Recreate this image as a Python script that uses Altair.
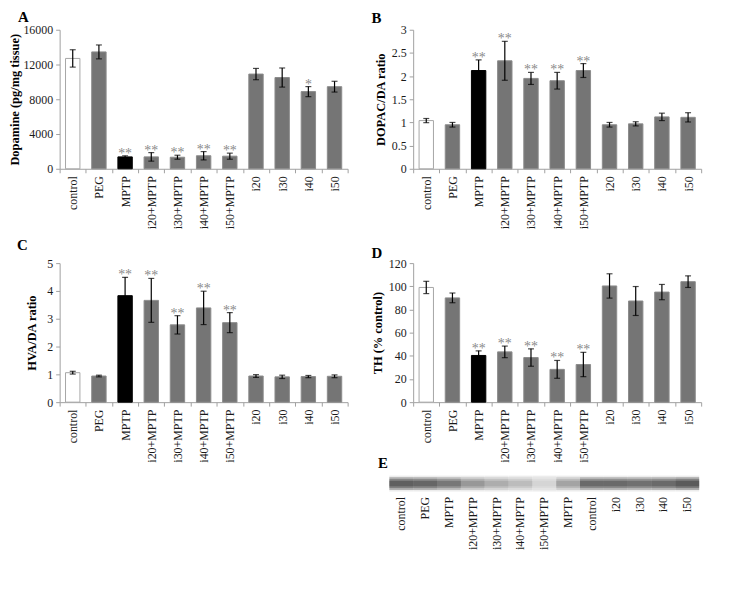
import altair as alt
import pandas as pd

FONT = "Liberation Serif"

# ---- categories (panels A-D) ----
cats = ["control", "PEG", "MPTP", "i20+MPTP", "i30+MPTP", "i40+MPTP",
        "i50+MPTP", "i20", "i30", "i40", "i50"]
fill_colors = ["#ffffff", "#757575", "#000000", "#757575", "#757575", "#757575",
               "#757575", "#757575", "#757575", "#757575", "#757575"]
stroke_colors = ["#a6a6a6", "#8c8c8c", "#000000", "#8c8c8c", "#8c8c8c", "#8c8c8c",
                 "#8c8c8c", "#8c8c8c", "#8c8c8c", "#8c8c8c", "#8c8c8c"]

# ---- A: Dopamine ----
dopamine = [12700, 13450, 1370, 1370, 1330, 1500, 1450, 10900, 10500, 8880, 9450]
dopamine_err = [1000, 800, 130, 490, 230, 480, 350, 650, 1100, 580, 620]
dopamine_sig = ["", "", "**", "**", "**", "**", "**", "", "", "*", ""]
dopamine_ticks = [0, 4000, 8000, 12000, 16000]

# ---- B: DOPAC/DA ----
dopac = [1.04, 0.95, 2.12, 2.33, 1.95, 1.90, 2.12, 0.95, 0.97, 1.12, 1.11]
dopac_err = [0.045, 0.05, 0.23, 0.42, 0.13, 0.18, 0.15, 0.05, 0.045, 0.08, 0.10]
dopac_sig = ["", "", "**", "**", "**", "**", "**", "", "", "", ""]
dopac_ticks = [0, 0.5, 1, 1.5, 2, 2.5, 3]

# ---- C: HVA/DA ----
hva = [1.06, 0.94, 3.83, 3.66, 2.78, 3.39, 2.86, 0.94, 0.91, 0.92, 0.93]
hva_err = [0.05, 0.03, 0.66, 0.79, 0.33, 0.60, 0.36, 0.05, 0.06, 0.04, 0.05]
hva_sig = ["", "", "**", "**", "**", "**", "**", "", "", "", ""]
hva_ticks = [0, 1, 2, 3, 4, 5]

# ---- D: TH ----
th = [99, 90, 40.3, 43.4, 38.5, 28.3, 32.5, 100.3, 87.3, 95, 104]
th_err = [5.3, 4.2, 4, 5, 7.5, 7.7, 10.5, 10.5, 12.5, 6.6, 5]
th_sig = ["", "", "**", "**", "**", "**", "**", "", "", "", ""]
th_ticks = [0, 20, 40, 60, 80, 100, 120]

# ---- E: western blot lanes ----
lanes = ["control", "PEG", "MPTP", "i20+MPTP", "i30+MPTP", "i40+MPTP", "i50+MPTP",
         "MPTP", "control", "i20", "i30", "i40", "i50"]
band_intensity = [0.95, 0.9, 0.75, 0.5, 0.35, 0.25, 0.12, 0.4, 0.85, 0.85, 0.8, 0.85, 1.0]

PW, PH = 290, 140
E_GAP, E_H = 74, 16


def letter_title(letter, t_off, t_dx):
    return alt.TitleParams(letter, anchor="start", frame="group", offset=t_off,
                           dx=t_dx, baseline="alphabetic", font=FONT,
                           fontSize=15, fontWeight="bold", color="#000")


def panel_layer(values, errs, sigs, ymax, yticks, ytitle, fmt="~g", title_pad=4):
    df = pd.DataFrame({
        "cat": cats,
        "val": values,
        "lo": [v - e for v, e in zip(values, errs)],
        "hi": [v + e for v, e in zip(values, errs)],
        "sig": sigs,
    })
    x = alt.X("cat:N", sort=cats,
              scale=alt.Scale(paddingInner=0, paddingOuter=0),
              axis=alt.Axis(title=None, labelAngle=270, tickBand="extent",
                            labelPadding=3, tickSize=4, orient="bottom"))
    ysc = alt.Scale(domain=[0, ymax], nice=False, zero=True)
    yax = alt.Axis(values=yticks, format=fmt, titlePadding=title_pad,
                   labelPadding=3, tickSize=4)
    base = alt.Chart(df)
    bars = base.mark_bar(width=alt.RelativeBandSize(0.55), strokeWidth=1).encode(
        x=x,
        y=alt.Y("val:Q", scale=ysc, axis=yax, title=ytitle),
        fill=alt.Fill("cat:N", scale=alt.Scale(domain=cats, range=fill_colors), legend=None),
        stroke=alt.Stroke("cat:N", scale=alt.Scale(domain=cats, range=stroke_colors), legend=None),
    )
    rules = base.mark_rule(color="black", strokeWidth=1.2).encode(
        x=x, y=alt.Y("lo:Q", scale=ysc, axis=yax, title=ytitle), y2="hi:Q")
    lo_caps = base.mark_tick(color="black", size=6, thickness=1.2).encode(
        x=x, y=alt.Y("lo:Q", scale=ysc, axis=yax, title=ytitle))
    hi_caps = base.mark_tick(color="black", size=6, thickness=1.2).encode(
        x=x, y=alt.Y("hi:Q", scale=ysc, axis=yax, title=ytitle))
    stars = base.mark_text(font=FONT, fontSize=14, color="#8a8a8a",
                           baseline="alphabetic", dy=2).encode(
        x=x, y=alt.Y("hi:Q", scale=ysc, axis=yax, title=ytitle), text="sig:N")
    return alt.layer(bars, rules, lo_caps, hi_caps, stars)


pA = panel_layer(dopamine, dopamine_err, dopamine_sig, 16000, dopamine_ticks,
                 "Dopamine (pg/mg tissue)", fmt="d", title_pad=1).properties(
    width=PW, height=PH, title=letter_title("A", -13, -42))
pB = panel_layer(dopac, dopac_err, dopac_sig, 3, dopac_ticks,
                 "DOPAC/DA ratio").properties(
    width=PW, height=PH, title=letter_title("B", -14, -42))
pC = panel_layer(hva, hva_err, hva_sig, 5, hva_ticks,
                 "HVA/DA ratio", title_pad=8).properties(
    width=PW, height=PH, title=letter_title("C", -8, -43))
dLayer = panel_layer(th, th_err, th_sig, 120, th_ticks, "TH (% control)", fmt="d")

# ---- E blot, drawn below panel D on its own scales ----
edf = pd.DataFrame({"lane": list(range(len(lanes))), "intensity": band_intensity})
label_expr = "[" + ",".join("'" + n + "'" for n in lanes) + "][datum.value]"
ex = alt.X("lane:O",
           scale=alt.Scale(range=[-24, 288], paddingInner=0, paddingOuter=0),
           axis=alt.Axis(title="E", titleAngle=0, titleX=-36, titleY=-(E_H + 9),
                         titleAlign="left", titleBaseline="alphabetic",
                         titleFontSize=15, titleFontWeight="bold",
                         labelExpr=label_expr, labelAngle=270, orient="bottom",
                         offset=E_GAP + E_H + 1, domain=False, ticks=False,
                         labelPadding=4))
ysc_e = alt.Scale(domain=[0, 1], range=[PH + E_GAP + E_H, PH + E_GAP])
ebase = alt.Chart(edf)
bg = ebase.mark_rect(color="#ececec").encode(
    x=ex, y=alt.YDatum(0, type="quantitative", scale=ysc_e, axis=None), y2=alt.Y2Datum(1))


def band(lo, hi, maxop):
    return ebase.mark_rect(color="#111111").encode(
        x=ex,
        y=alt.YDatum(lo, type="quantitative", scale=ysc_e, axis=None),
        y2=alt.Y2Datum(hi),
        opacity=alt.Opacity("intensity:Q", scale=alt.Scale(domain=[0, 1], range=[0, maxop]),
                            legend=None),
    )


eLayer = alt.layer(bg, band(0.1, 0.9, 0.3), band(0.22, 0.78, 0.45), band(0.33, 0.67, 0.8))

pDE = alt.layer(dLayer, eLayer).resolve_scale(
    x="independent", y="independent").properties(
    width=PW, height=PH, title=letter_title("D", -16, -42))

chart = alt.concat(pA, pB, pC, pDE, columns=2, bounds="flush",
                   spacing={"row": 95, "column": 66}).properties(
    padding={"left": 0, "top": 0, "right": 2, "bottom": 2}
).configure_axis(
    labelFont=FONT, titleFont=FONT, labelFontSize=12, titleFontSize=12.5,
    titleFontWeight="bold", labelColor="#1a1a1a", titleColor="#000000",
    domainColor="#a0a0a0", tickColor="#a0a0a0", grid=False,
).configure_view(strokeWidth=0)

chart.save("out.html", embed_options={"renderer": "svg", "actions": False})
